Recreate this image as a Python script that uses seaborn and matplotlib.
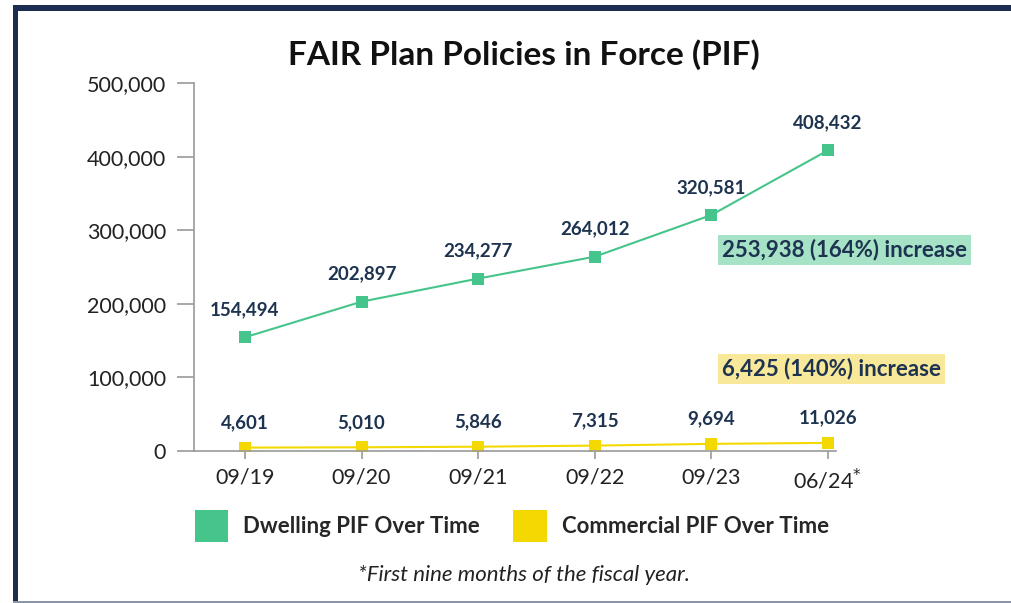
import numpy as np
import pandas as pd
import matplotlib.pyplot as plt
import seaborn as sns
from matplotlib.patches import Patch, Rectangle

periods = ['09/19', '09/20', '09/21', '09/22', '09/23', '06/24']
dwelling = [154494, 202897, 234277, 264012, 320581, 408432]
commercial = [4601, 5010, 5846, 7315, 9694, 11026]
yticks = [0, 100000, 200000, 300000, 400000, 500000]

GREEN = '#45c48b'
YELLOW = '#f3d900'
NAVY = '#1d3350'

sns.set_style('white')
plt.rcParams['font.family'] = ['Lato', 'DejaVu Sans']

df = pd.DataFrame({
    'pos': list(range(len(periods))) * 2,
    'pif': dwelling + commercial,
    'type': ['Dwelling PIF Over Time'] * len(periods) + ['Commercial PIF Over Time'] * len(periods),
})

fig = plt.figure(figsize=(10.11, 6.03), dpi=100)
ax = fig.add_axes([194 / 1011, 1 - 451 / 603, (836 - 194) / 1011, (451 - 83) / 603])

sns.lineplot(data=df, x='pos', y='pif', hue='type', style='type',
             palette=[GREEN, YELLOW], markers=['s', 's'], dashes=False,
             markersize=8, markeredgewidth=0, linewidth=1.5, legend=False, ax=ax)

ax.set_xlim(-0.437, 5.07)
ax.set_ylim(0, 500000)
ax.set_yticks(yticks)
ax.set_yticklabels([f'{v:,}' for v in yticks], fontsize=15.5, color='#222222')
ax.set_xticks(range(len(periods)))
ax.set_xticklabels(periods[:-1] + [periods[-1] + '$^{*}$'], fontsize=15.5, color='#222222')
ax.set_xlabel('')
ax.set_ylabel('')
for s in ['top', 'right']:
    ax.spines[s].set_visible(False)
for s in ['left', 'bottom']:
    ax.spines[s].set_color('#9a9a9a')
    ax.spines[s].set_linewidth(1.2)
ax.tick_params(axis='y', length=12, width=1.2, color='#9a9a9a', pad=8, left=True)
ax.tick_params(axis='x', length=6, width=1.2, color='#9a9a9a', pad=6, bottom=True)

for i, v in enumerate(dwelling):
    ax.annotate(f'{v:,}', (i, v), xytext=(0, 20), textcoords='offset points',
                ha='center', va='center', fontsize=13.5, fontweight='bold', color=NAVY)
for i, v in enumerate(commercial):
    ax.annotate(f'{v:,}', (i, v), xytext=(0, 18), textcoords='offset points',
                ha='center', va='center', fontsize=13.5, fontweight='bold', color=NAVY)

fig.text(722 / 1011, 1 - 250 / 603, '253,938 (164%) increase', ha='left', va='center',
         fontsize=16, fontweight='bold', color=NAVY,
         bbox=dict(boxstyle='square,pad=0.2', fc='#a6e2c6', ec='none'))
fig.text(722 / 1011, 1 - 369 / 603, '6,425 (140%) increase', ha='left', va='center',
         fontsize=16, fontweight='bold', color=NAVY,
         bbox=dict(boxstyle='square,pad=0.2', fc='#f8e89a', ec='none'))

fig.text(524 / 1011, 1 - 55 / 603, 'FAIR Plan Policies in Force (PIF)', ha='center', va='center',
         fontsize=24, fontweight='bold', color='#111111')

handles = [Patch(fc=GREEN, ec='none'), Patch(fc=YELLOW, ec='none')]
leg = fig.legend(handles, ['Dwelling PIF Over Time', 'Commercial PIF Over Time'],
                 loc='center', bbox_to_anchor=(512 / 1011, 1 - 526 / 603), ncol=2,
                 frameon=False, handlelength=1.5, handleheight=1.9, handletextpad=0.7,
                 columnspacing=1.5, prop={'size': 16, 'weight': 'bold'})

fig.text(524 / 1011, 1 - 575 / 603, '*First nine months of the fiscal year.', ha='center',
         va='center', fontsize=16, style='italic', color='#222222')

# frame
fig.add_artist(Rectangle((13 / 1011, 0), 5 / 1011, 598 / 603, transform=fig.transFigure,
                         fc='#1b2d52', ec='none'))
fig.add_artist(Rectangle((13 / 1011, 1 - 11 / 603), 998 / 1011, 6 / 603, transform=fig.transFigure,
                         fc='#1b2d52', ec='none'))
fig.add_artist(Rectangle((13 / 1011, 0), 998 / 1011, 2 / 603, transform=fig.transFigure,
                         fc='#8a95a8', ec='none'))

fig.savefig('out.png', dpi=100)
